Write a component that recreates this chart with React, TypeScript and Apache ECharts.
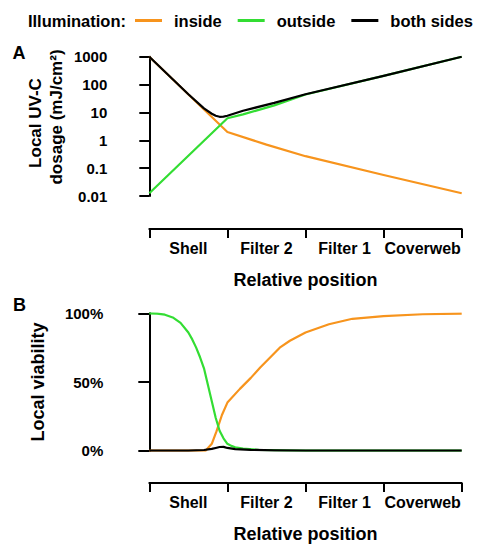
import React, { useEffect, useRef } from "react";
import * as echarts from "echarts";

// ---------- data ----------
const categories = ["Shell", "Filter 2", "Filter 1", "Coverweb"];
const seriesNames = ["inside", "outside", "both sides"];
const legendPrefix = "Illumination:";
const xTitle = "Relative position";
const dosageTitleLines = ["Local UV-C", "dosage (mJ/cm²)"];
const viabilityTitle = "Local viability";
const panelLetters = ["A", "B"];

const dosageTickLabels = ["0.01", "0.1", "1", "10", "100", "1000"];
const viabilityTickLabels = ["0%", "50%", "100%"];

// Panel A: local UV-C dosage (position 0..4 across the four layers)
const doseInsidePos = [0, 1, 1.5, 2, 3, 4];
const doseInside = [1000, 2.0, 0.7, 0.27, 0.057, 0.0126];
const doseOutsidePos = [0, 1.0, 1.2, 1.6, 2, 3, 4];
const doseOutside = [0.0126, 6.2, 8.5, 18, 44, 205, 1000];
const doseBothPos = [0, 0.5, 0.7, 0.8, 0.85, 0.9, 0.95, 1.0, 1.2, 1.6, 2, 3, 4];
const doseBoth = [1000, 45, 14, 9, 7.6, 7.0, 7.1, 7.6, 11.5, 22, 45, 205, 1000];

// Panel B: local viability
const viaInsidePos = [0, 0.72, 0.8, 0.86, 0.93, 1.0, 1.16, 1.3, 1.42, 1.55, 1.67, 1.8, 2.0, 2.3, 2.6, 3.0, 3.5, 4];
const viaInside = [0, 0, 0.05, 0.14, 0.26, 0.35, 0.45, 0.53, 0.605, 0.68, 0.75, 0.8, 0.86, 0.92, 0.96, 0.98, 0.993, 0.997];
const viaOutsidePos = [0, 0.1, 0.2, 0.3, 0.4, 0.5, 0.55, 0.6, 0.65, 0.7, 0.75, 0.8, 0.85, 0.9, 0.95, 1.0, 1.05, 1.1, 1.2, 1.4, 1.7, 2, 4];
const viaOutside = [1, 0.997, 0.99, 0.97, 0.93, 0.86, 0.81, 0.75, 0.68, 0.6, 0.48, 0.36, 0.24, 0.145, 0.09, 0.05, 0.035, 0.025, 0.015, 0.006, 0.002, 0, 0];
const viaBothPos = [0, 0.5, 0.7, 0.8, 0.85, 0.9, 0.95, 1.0, 1.1, 1.3, 1.6, 2, 4];
const viaBoth = [0, 0.001, 0.005, 0.013, 0.02, 0.027, 0.028, 0.02, 0.012, 0.006, 0.002, 0, 0];

const colors = ["#F7941D", "#33DD33", "#000000"];

const zip = (xs: number[], ys: number[]) => xs.map((x, i) => [x, ys[i]]);

const FONT = "Liberation Sans";

export default function App() {
  const ref = useRef<HTMLDivElement>(null);

  useEffect(() => {
    if (!ref.current) return;
    const chart = echarts.init(ref.current, undefined, { renderer: "svg" });

    const bracketAxis = (gridIndex: number, offset: number, margin: number) => ({
      type: "category",
      gridIndex,
      data: categories,
      position: "bottom",
      offset,
      boundaryGap: true,
      axisLine: { show: true, lineStyle: { color: "#000", width: 2 } },
      axisTick: { show: true, length: 9, alignWithLabel: false, lineStyle: { color: "#000", width: 2 } },
      axisLabel: { margin, interval: 0, fontSize: 16, fontWeight: "bold", color: "#000", fontFamily: FONT },
      splitLine: { show: false },
      name: xTitle,
      nameLocation: "middle",
      nameGap: 42,
      nameTextStyle: { fontSize: 18, fontWeight: "bold", color: "#000", fontFamily: FONT },
    });

    const hiddenX = (gridIndex: number) => ({
      type: "value",
      gridIndex,
      min: 0,
      max: 4,
      show: false,
    });

    const lineSeries = (name: string, color: string, xIdx: number, yIdx: number, data: number[][]) => ({
      type: "line",
      name,
      xAxisIndex: xIdx,
      yAxisIndex: yIdx,
      data,
      showSymbol: false,
      symbol: "none",
      smooth: false,
      lineStyle: { color, width: 2.2, join: "round" },
      itemStyle: { color },
    });

    const textStyle = (size: number) => ({
      fontSize: size,
      fontWeight: "bold",
      fontFamily: FONT,
      fill: "#000",
    });

    chart.setOption({
      animation: false,
      textStyle: { fontFamily: FONT, fontWeight: "bold", color: "#000" },
      legend: {
        data: seriesNames,
        left: 135,
        top: 12,
        width: 420,
        padding: 0,
        itemWidth: 27,
        itemHeight: 3,
        itemGap: 16,
        icon: "rect",
        textStyle: { fontSize: 16.5, fontWeight: "bold", color: "#000", fontFamily: FONT, padding: [0, 0, 0, 7] },
      },
      grid: [
        { left: 149.3, top: 56.7, width: 312.4, height: 139.4 },
        { left: 149.3, top: 313.3, width: 312.4, height: 139.4 },
      ],
      xAxis: [hiddenX(0), bracketAxis(0, 33, 11), hiddenX(1), bracketAxis(1, 32.3, 11)],
      yAxis: [
        {
          type: "log",
          gridIndex: 0,
          logBase: 10,
          min: 0.01,
          max: 1000,
          offset: 31,
          axisLine: { show: true, lineStyle: { color: "#000", width: 2 } },
          axisTick: { show: true, length: 10, lineStyle: { color: "#000", width: 2 } },
          axisLabel: {
            margin: 11,
            fontSize: 15,
            fontWeight: "bold",
            color: "#000",
            fontFamily: FONT,
            formatter: (v: number) => dosageTickLabels[Math.round(Math.log10(v)) + 2] ?? "",
          },
          splitLine: { show: false },
          minorTick: { show: false },
        },
        {
          type: "value",
          gridIndex: 1,
          min: 0,
          max: 1,
          interval: 0.5,
          offset: 31,
          axisLine: { show: true, lineStyle: { color: "#000", width: 2 } },
          axisTick: { show: true, length: 11, lineStyle: { color: "#000", width: 2 } },
          axisLabel: {
            margin: 15,
            fontSize: 15,
            fontWeight: "bold",
            color: "#000",
            fontFamily: FONT,
            formatter: (v: number) => viabilityTickLabels[Math.round(v * 2)] ?? "",
          },
          splitLine: { show: false },
        },
      ],
      series: [
        lineSeries(seriesNames[0], colors[0], 0, 0, zip(doseInsidePos, doseInside)),
        lineSeries(seriesNames[1], colors[1], 0, 0, zip(doseOutsidePos, doseOutside)),
        lineSeries(seriesNames[2], colors[2], 0, 0, zip(doseBothPos, doseBoth)),
        lineSeries(seriesNames[0], colors[0], 2, 1, zip(viaInsidePos, viaInside)),
        lineSeries(seriesNames[1], colors[1], 2, 1, zip(viaOutsidePos, viaOutside)),
        lineSeries(seriesNames[2], colors[2], 2, 1, zip(viaBothPos, viaBoth)),
      ],
      graphic: [
        {
          type: "text",
          x: 126,
          y: 21,
          style: { ...textStyle(16.5), text: legendPrefix, align: "right", verticalAlign: "middle" },
        },
        {
          type: "text",
          x: 19,
          y: 53,
          style: { ...textStyle(18), text: panelLetters[0], align: "center", verticalAlign: "middle" },
        },
        {
          type: "text",
          x: 19.5,
          y: 305,
          style: { ...textStyle(18), text: panelLetters[1], align: "center", verticalAlign: "middle" },
        },
        {
          type: "text",
          x: 35,
          y: 123,
          rotation: Math.PI / 2,
          style: { ...textStyle(17), text: dosageTitleLines[0], align: "center", verticalAlign: "middle" },
        },
        {
          type: "text",
          x: 56,
          y: 117,
          rotation: Math.PI / 2,
          style: { ...textStyle(17), text: dosageTitleLines[1], align: "center", verticalAlign: "middle" },
        },
        {
          type: "text",
          x: 38,
          y: 382,
          rotation: Math.PI / 2,
          style: { ...textStyle(18), text: viabilityTitle, align: "center", verticalAlign: "middle" },
        },
      ],
    });

    return () => chart.dispose();
  }, []);

  return (
    <div
      ref={ref}
      style={{ position: "fixed", left: 0, top: 0, width: 478, height: 544, background: "#fff" }}
    />
  );
}
